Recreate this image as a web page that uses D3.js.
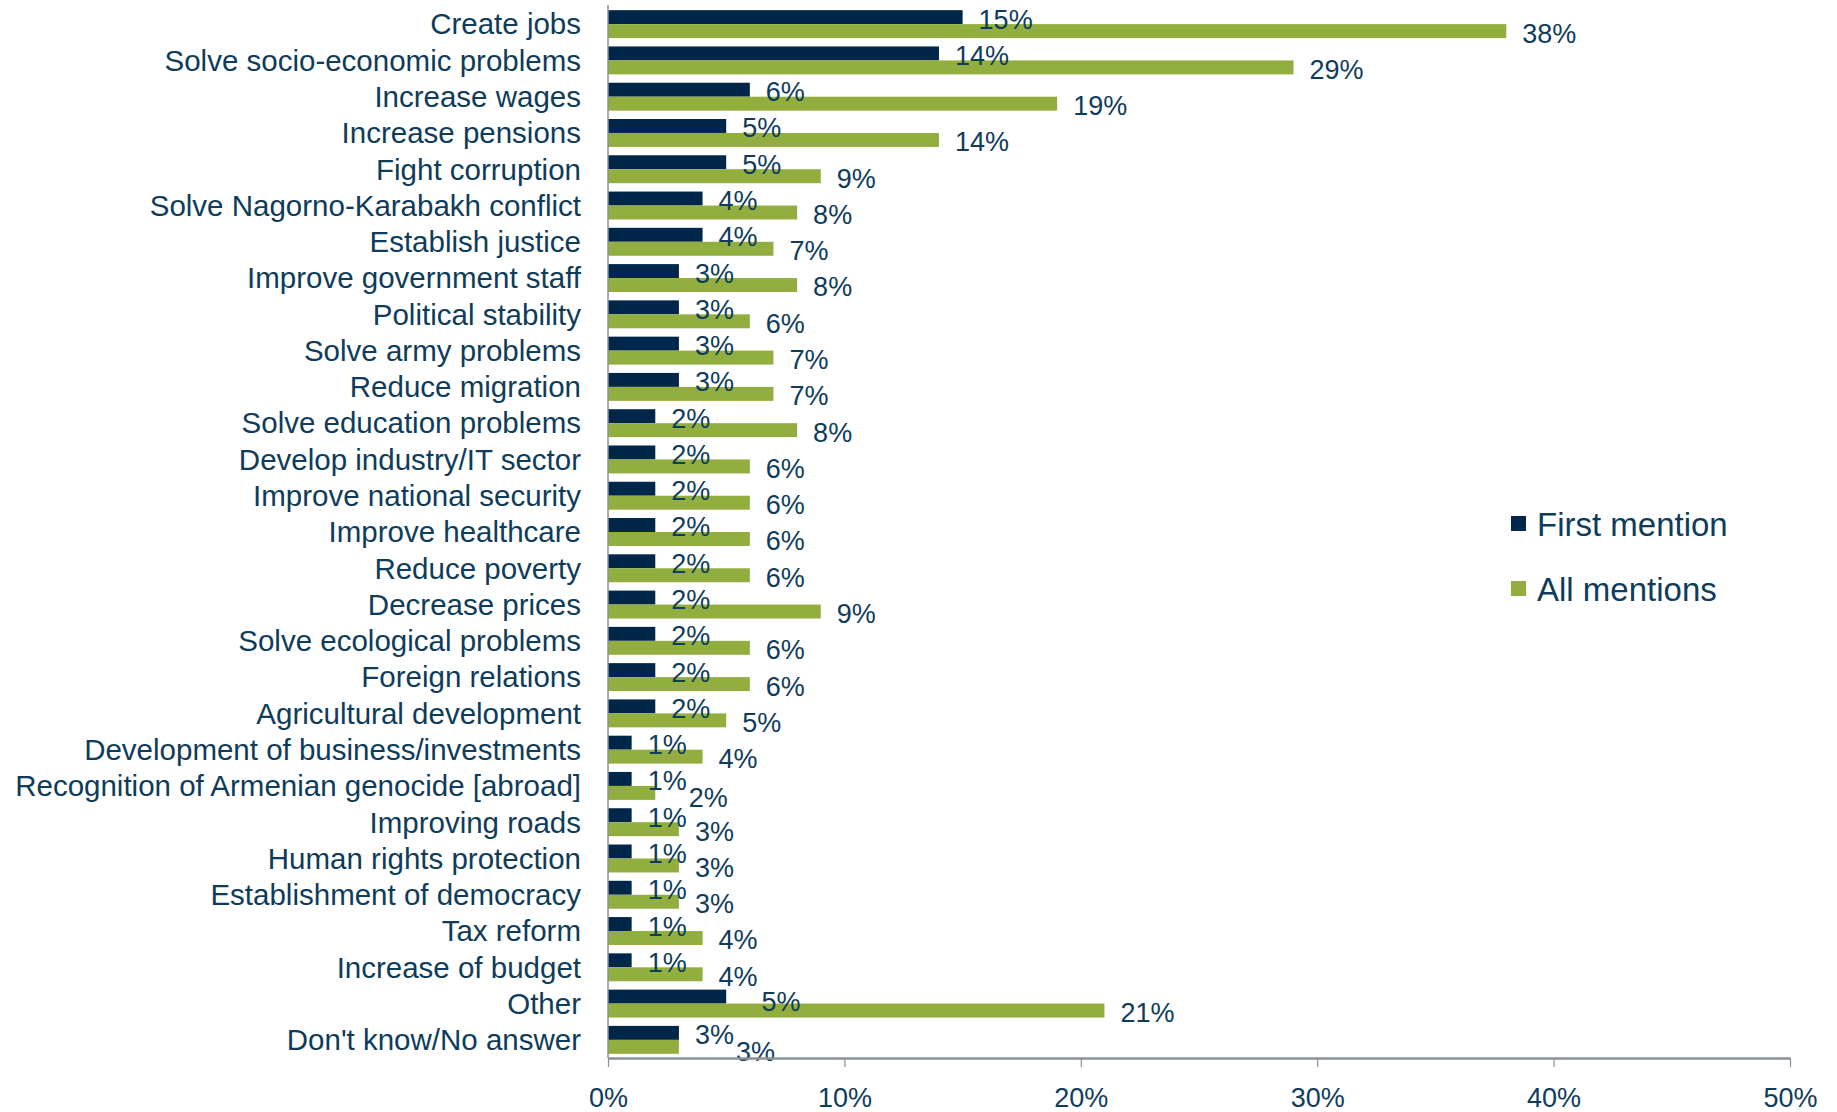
<!DOCTYPE html>
<html>
<head>
<meta charset="utf-8">
<script src="https://cdn.jsdelivr.net/npm/d3@7"></script>
<style>
  html, body { margin: 0; padding: 0; background: #ffffff; }
  svg { display: block; }
  text { font-family: "Liberation Sans", Arial, sans-serif; }
</style>
</head>
<body>
<svg id="chart" width="1837" height="1112"></svg>
<script>
const categories = [
  "Create jobs",
  "Solve socio-economic problems",
  "Increase wages",
  "Increase pensions",
  "Fight corruption",
  "Solve Nagorno-Karabakh conflict",
  "Establish justice",
  "Improve government staff",
  "Political stability",
  "Solve army problems",
  "Reduce migration",
  "Solve education problems",
  "Develop industry/IT sector",
  "Improve national security",
  "Improve healthcare",
  "Reduce poverty",
  "Decrease prices",
  "Solve ecological problems",
  "Foreign relations",
  "Agricultural development",
  "Development of business/investments",
  "Recognition of Armenian genocide [abroad]",
  "Improving roads",
  "Human rights protection",
  "Establishment of democracy",
  "Tax reform",
  "Increase of budget",
  "Other",
  "Don't know/No answer"
];
const firstMention = [15,14,6,5,5,4,4,3,3,3,3,2,2,2,2,2,2,2,2,2,1,1,1,1,1,1,1,5,3];
const allMentions  = [38,29,19,14,9,8,7,8,6,7,7,8,6,6,6,6,9,6,6,5,4,2,3,3,3,4,4,21,3];
const seriesNames = ["First mention", "All mentions"];
const tickValues = [0,10,20,30,40,50];

const colors = ["#002649", "#92ae3e"];
const textColor = "#0e3c5a";
const axisColor = "#8a9199";

const svg = d3.select("#chart");

const x = d3.scaleLinear().domain([0, 50]).range([608, 1790]);
const y = d3.scaleBand().domain(categories).range([6, 1058])
  .paddingInner(0.23).paddingOuter(0.115);
const sub = d3.scaleBand().domain([0, 1]).range([0, y.bandwidth()]);

const rows = categories.map((c, i) => ({ cat: c, vals: [firstMention[i], allMentions[i]] }));

// bars
const groups = svg.append("g").selectAll("g").data(rows).join("g")
  .attr("transform", d => `translate(0,${y(d.cat)})`);

groups.selectAll("rect").data(d => d.vals.map((v, k) => ({ v, k }))).join("rect")
  .attr("x", x(0))
  .attr("y", d => sub(d.k))
  .attr("width", d => x(d.v) - x(0))
  .attr("height", sub.bandwidth())
  .attr("fill", d => colors[d.k]);

// value labels with simple collision avoidance
let prevGreen = null; // [start, end]
groups.each(function(d) {
  const g = d3.select(this);
  const labels = d.vals.map((v, k) =>
    g.append("text")
      .attr("x", x(v) + 16)
      .attr("y", sub(k) + sub.bandwidth() / 2 + 2)
      .attr("dy", "0.35em")
      .attr("font-size", 27)
      .attr("fill", textColor)
      .text(v + "%"));
  const w0 = labels[0].node().getComputedTextLength();
  const w1 = labels[1].node().getComputedTextLength();
  // first-mention label vs previous row's all-mentions label
  let s0 = +labels[0].attr("x");
  if (prevGreen && s0 < prevGreen[1] + 2 && s0 + w0 > prevGreen[0] - 2) {
    s0 = prevGreen[1] + 4;
    labels[0].attr("x", s0).attr("y", +labels[0].attr("y") + 3);
  }
  const end0 = s0 + w0;
  let s1 = +labels[1].attr("x");
  if (s1 < end0 + 2 && s1 + w1 > s0) {
    s1 = end0 + 2;
    labels[1].attr("x", s1).attr("y", +labels[1].attr("y") + 3);
  }
  prevGreen = [s1, s1 + w1];
});

// category labels
svg.append("g").selectAll("text").data(categories).join("text")
  .attr("x", 581)
  .attr("y", d => y(d) + y.bandwidth() / 2)
  .attr("dy", "0.35em")
  .attr("text-anchor", "end")
  .attr("font-size", 29.5)
  .attr("fill", textColor)
  .text(d => d);

// left axis line
svg.append("line")
  .attr("x1", x(0)).attr("x2", x(0))
  .attr("y1", 5).attr("y2", 1058)
  .attr("stroke", axisColor).attr("stroke-width", 1.5);

// bottom axis
const xAxis = d3.axisBottom(x)
  .tickValues(tickValues)
  .tickFormat(d => d + "%")
  .tickSize(9)
  .tickSizeOuter(0)
  .tickPadding(21);

const ax = svg.append("g").attr("transform", "translate(0,1058)").call(xAxis);
ax.select(".domain").attr("stroke", axisColor).attr("stroke-width", 2.5);
ax.selectAll(".tick line").attr("stroke", axisColor).attr("stroke-width", 1.2);
ax.selectAll(".tick text")
  .attr("fill", textColor)
  .attr("font-size", 27)
  .attr("font-family", "Liberation Sans, Arial, sans-serif");

// legend
const legend = svg.append("g").selectAll("g").data(seriesNames).join("g")
  .attr("transform", (d, i) => `translate(1511,${524 + i * 65})`);
legend.append("rect")
  .attr("x", 0).attr("y", -8).attr("width", 15).attr("height", 15)
  .attr("fill", (d, i) => colors[i]);
legend.append("text")
  .attr("x", 26).attr("y", 0).attr("dy", "0.35em")
  .attr("font-size", 33)
  .attr("fill", textColor)
  .text(d => d);
</script>
</body>
</html>
